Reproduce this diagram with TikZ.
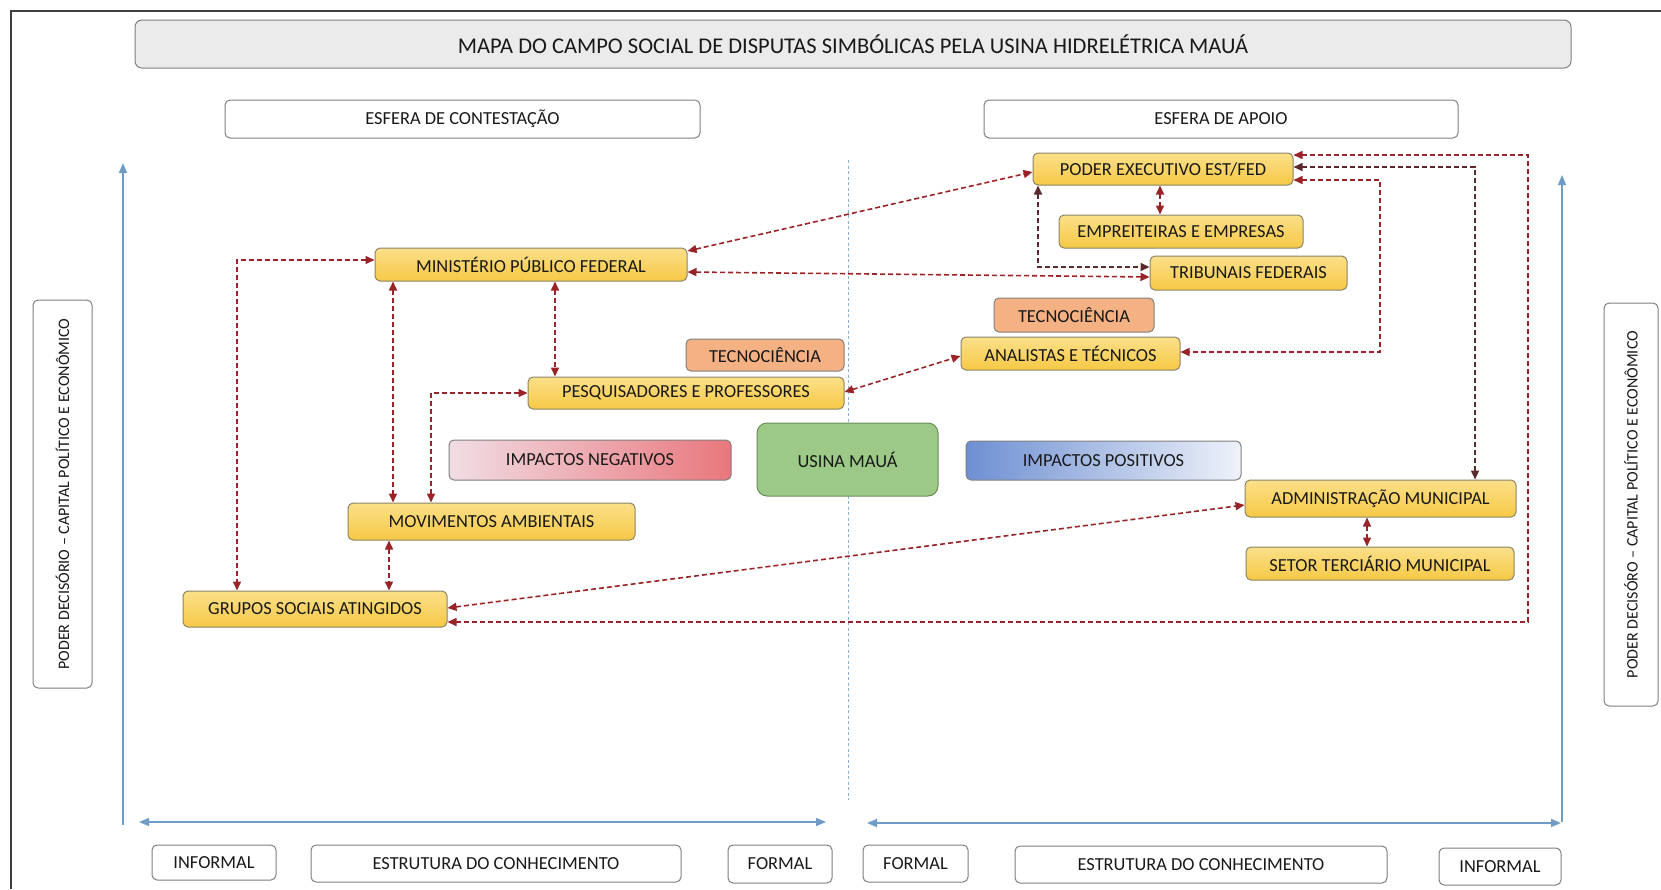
\documentclass[tikz,border=0pt]{standalone}
\usepackage{fontspec}
\setmainfont{Carlito}
\usetikzlibrary{arrows.meta}

\definecolor{linkred}{HTML}{9A2327}
\definecolor{linkdark}{HTML}{5A2A2A}
\definecolor{axisblue}{HTML}{6F9CC4}
\definecolor{boxline}{HTML}{7F7F7F}
\definecolor{yelTop}{HTML}{FBE08A}
\definecolor{yelBot}{HTML}{F6C845}
\definecolor{yelLine}{HTML}{8A8466}
\definecolor{tecFill}{HTML}{F4B183}
\definecolor{usinaFill}{HTML}{9CC987}
\definecolor{usinaLine}{HTML}{6A8E58}
\definecolor{negL}{HTML}{F1DDE4}
\definecolor{negR}{HTML}{E8777C}
\definecolor{posL}{HTML}{6E8FD2}
\definecolor{posR}{HTML}{EEF2FA}

\begin{document}
\begin{tikzpicture}[x=1pt, y=-1pt,
    txt/.style={font=\fontsize{18.4}{21}\selectfont, text=black!90},
    plainbox/.style={txt, draw=boxline, line width=1pt, rounded corners=5pt, fill=white},
    actor/.style={txt, draw=yelLine, line width=1pt, rounded corners=5pt, top color=yelTop, bottom color=yelBot},
    tecbox/.style={txt, draw=boxline, line width=1pt, rounded corners=5pt, fill=tecFill},
    sidebox/.style={plainbox, rotate=90, font=\fontsize{16}{19}\selectfont},
    conn/.style={draw=linkred, line width=1.6pt, dash pattern=on 5pt off 3pt, <->, >={Triangle[length=9pt,width=8pt]}},
    conndark/.style={conn, draw=linkdark},
    axis/.style={draw=axisblue, line width=1.5pt, >={Triangle[length=10pt,width=8pt]}}]

    \useasboundingbox (0,0) rectangle (1661,889);
    \draw[line width=1.6pt, black!75] (1661,11) -- (11,11) -- (11,889);

    % titulo e esferas
    \node[txt, draw=boxline, line width=1pt, rounded corners=7pt, fill=black!8,
          minimum width=1436pt, minimum height=48pt, font=\fontsize{22.5}{26}\selectfont] (titulo) at (853,44)
          {MAPA DO CAMPO SOCIAL DE DISPUTAS SIMBÓLICAS PELA USINA HIDRELÉTRICA MAUÁ};
    \node[plainbox, minimum width=475pt, minimum height=38pt] (esfCont) at (462.5,119) {ESFERA DE CONTESTAÇÃO};
    \node[plainbox, minimum width=474pt, minimum height=38pt] (esfApoio) at (1221,119) {ESFERA DE APOIO};

    % eixos
    \draw[axis, ->] (123,825) -- (123,163);
    \draw[axis, ->] (1562,822) -- (1562,175);
    \draw[axis, <->] (139,822) -- (826,822);
    \draw[axis, <->] (867,823) -- (1561,823);
    \draw[draw=axisblue!80, line width=1pt, dash pattern=on 3pt off 2.5pt] (848,160) -- (848,800);

    % caixas laterais
    \node[sidebox, minimum width=388pt, minimum height=59pt] (poderEsq) at (62.5,494)
          {PODER DECISÓRIO -- CAPITAL POLÍTICO E ECONÔMICO};
    \node[sidebox, minimum width=403pt, minimum height=54pt] (poderDir) at (1631,504.5)
          {PODER DECISÓRO -- CAPITAL POLÍTICO E ECONÔMICO};

    % estrutura do conhecimento
    \node[plainbox, minimum width=124pt, minimum height=35pt] (informalEsq) at (214,862.5) {INFORMAL};
    \node[plainbox, minimum width=370pt, minimum height=37pt] (estruturaEsq) at (496,863.5) {ESTRUTURA DO CONHECIMENTO};
    \node[plainbox, minimum width=104pt, minimum height=38pt] (formalEsq) at (780,864) {FORMAL};
    \node[plainbox, minimum width=105pt, minimum height=37pt] (formalDir) at (915.5,863.5) {FORMAL};
    \node[plainbox, minimum width=372pt, minimum height=37pt] (estruturaDir) at (1201,864.5) {ESTRUTURA DO CONHECIMENTO};
    \node[plainbox, minimum width=122pt, minimum height=37pt] (informalDir) at (1500,866.5) {INFORMAL};

    % esfera de contestacao
    \node[actor, minimum width=312pt, minimum height=33pt] (mpf) at (531,264.5) {MINISTÉRIO PÚBLICO FEDERAL};
    \node[tecbox, minimum width=158pt, minimum height=32pt] (tecEsq) at (765,355) {TECNOCIÊNCIA};
    \node[actor, minimum width=316pt, minimum height=32pt] (pesq) at (686,393) {PESQUISADORES E PROFESSORES};
    \node[txt, draw=boxline, line width=1pt, rounded corners=5pt, left color=negL, right color=negR,
          minimum width=282pt, minimum height=40pt] (impNeg) at (590,460) {IMPACTOS NEGATIVOS};
    \node[actor, minimum width=287pt, minimum height=37pt] (mov) at (491.5,521.5) {MOVIMENTOS AMBIENTAIS};
    \node[actor, minimum width=264pt, minimum height=36pt] (grupos) at (315,609) {GRUPOS SOCIAIS ATINGIDOS};

    % centro
    \node[txt, draw=usinaLine, line width=1pt, rounded corners=10pt, fill=usinaFill,
          minimum width=181pt, minimum height=73pt] (usina) at (847.5,459.5) {USINA MAUÁ};

    % esfera de apoio
    \node[actor, minimum width=260pt, minimum height=32pt] (poder) at (1163,169) {PODER EXECUTIVO EST/FED};
    \node[actor, minimum width=244pt, minimum height=33pt] (empreit) at (1181,231.5) {EMPREITEIRAS E EMPRESAS};
    \node[actor, minimum width=197pt, minimum height=34pt] (tribunais) at (1248.5,273) {TRIBUNAIS FEDERAIS};
    \node[tecbox, minimum width=160pt, minimum height=34pt] (tecDir) at (1074,315) {TECNOCIÊNCIA};
    \node[actor, minimum width=219pt, minimum height=33pt] (analistas) at (1070.5,353.5) {ANALISTAS E TÉCNICOS};
    \node[txt, draw=boxline, line width=1pt, rounded corners=5pt, left color=posL, right color=posR,
          minimum width=275pt, minimum height=39pt] (impPos) at (1103.5,460.5) {IMPACTOS POSITIVOS};
    \node[actor, minimum width=271pt, minimum height=37pt] (adm) at (1380.5,498.5) {ADMINISTRAÇÃO MUNICIPAL};
    \node[actor, minimum width=268pt, minimum height=33pt] (setor) at (1380,563.5) {SETOR TERCIÁRIO MUNICIPAL};

    % ligacoes
    \coordinate (voltaGrupos) at (1528,622);
    \coordinate (voltaAnalistas) at (1380,352);
    \draw[conn] (mpf.east |- 0,251) -- (poder.west |- 0,172);
    \draw[conn] (mpf.east |- 0,272) -- (tribunais.west |- 0,277);
    \draw[conndark] (poder.south -| 1038,0) |- (tribunais.west |- 0,267);
    \draw[conn] (poder.south -| 1160,0) -- (empreit.north -| 1160,0);
    \draw[conn] (poder.east |- 0,155) -| (voltaGrupos) -- (grupos.east |- 0,622);
    \draw[conndark] (poder.east |- 0,167) -| (adm.north -| 1475,0);
    \draw[conn] (poder.east |- 0,180) -| (voltaAnalistas) -- (analistas.east |- 0,352);
    \draw[conn] (pesq.east |- 0,392) -- (analistas.west |- 0,356);
    \draw[conn] (mpf.south -| 555,0) -- (pesq.north -| 555,0);
    \draw[conn] (mpf.south -| 393,0) -- (mov.north -| 393,0);
    \draw[conn] (pesq.west) -| (mov.north -| 431,0);
    \draw[conn] (mpf.west |- 0,260) -| (grupos.north -| 237,0);
    \draw[conn] (mov.south -| 389,0) -- (grupos.north -| 389,0);
    \draw[conn] (grupos.east |- 0,608) -- (adm.west |- 0,505);
    \draw[conn] (adm.south -| 1367,0) -- (setor.north -| 1367,0);
\end{tikzpicture}
\end{document}
